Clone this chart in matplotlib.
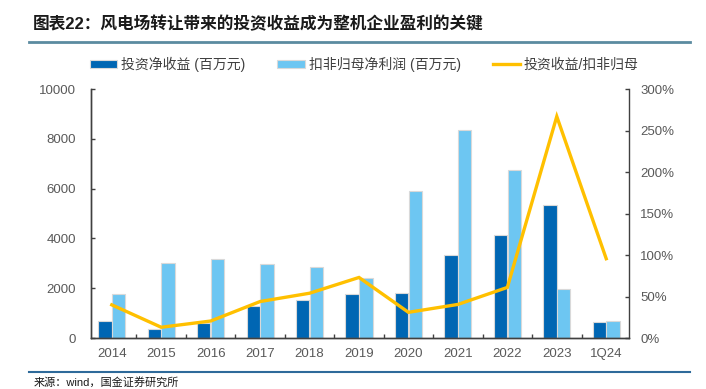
import numpy as np
import matplotlib
matplotlib.use("Agg")
import matplotlib.pyplot as plt
from matplotlib.lines import Line2D
from matplotlib.patches import Patch
from matplotlib.ticker import FuncFormatter

plt.rcParams['font.family'] = ['Liberation Sans', 'Noto Sans CJK SC']

# data
years = ['2014', '2015', '2016', '2017', '2018', '2019', '2020',
         '2021', '2022', '2023', '1Q24']
invest_income = [680, 375, 600, 1285, 1510, 1770, 1795, 3347, 4150, 5330, 630]
net_profit = [1770, 3000, 3160, 2970, 2865, 2410, 5917, 8340, 6733, 1980, 680]
ratio = [0.40, 0.13, 0.205, 0.44, 0.54, 0.73, 0.31, 0.405, 0.61, 2.67, 0.956]

dark_blue = '#0066B3'
light_blue = '#6DC6F2'
gold = '#FFC000'
grey_txt = '#595959'

fig = plt.figure(figsize=(7.06, 3.89), dpi=100)
ax = fig.add_axes([0.1289, 0.131, 0.762, 0.640])
x = np.arange(len(years))
w = 0.27

ax.bar(x - 0.14, invest_income, w, color=dark_blue, edgecolor='#d9d9d9', linewidth=0.8, zorder=2)
ax.bar(x + 0.14, net_profit, w, color=light_blue, edgecolor='#d9d9d9', linewidth=0.8, zorder=2)
ax.set_xlim(-0.42, 10.46)
ax.set_ylim(0, 10000)
ax.set_yticks(np.arange(0, 10001, 2000))
ax.set_xticks(x)
ax.set_xticklabels(years)
ax.set_xticks(x[:-1] + 0.5, minor=True)

ax2 = ax.twinx()
ax2.plot(x, ratio, color=gold, linewidth=2.4, solid_joinstyle='miter', zorder=3)
ax2.set_ylim(0, 3)
ax2.set_yticks(np.arange(0, 3.01, 0.5))
ax2.yaxis.set_major_formatter(FuncFormatter(lambda v, p: f'{v * 100:.0f}%'))

for a in (ax, ax2):
    a.spines['top'].set_visible(False)
    for s in ('left', 'right', 'bottom'):
        a.spines[s].set_color('#404040')
        a.spines[s].set_linewidth(1.0)
ax.spines['right'].set_visible(False)

ax.tick_params(axis='y', direction='in', length=3, width=1, color='#404040',
               labelsize=9.5, labelcolor=grey_txt, pad=11)
ax.tick_params(axis='x', which='major', length=0, labelsize=9.5, labelcolor=grey_txt, pad=7)
ax.tick_params(axis='x', which='minor', direction='in', length=3, width=1, color='#404040')
ax2.tick_params(axis='y', direction='in', length=3, width=1, color='#404040',
                labelsize=9.5, labelcolor=grey_txt, pad=8)

handles = [Patch(facecolor=dark_blue, edgecolor='#d9d9d9', linewidth=0.8),
           Patch(facecolor=light_blue, edgecolor='#d9d9d9', linewidth=0.8),
           Line2D([], [], color=gold, linewidth=2.4)]
labels = ['投资净收益 (百万元)', '扣非归母净利润 (百万元)', '投资收益/扣非归母']
fig.legend(handles, labels, loc='center left', bbox_to_anchor=(0.1275, 0.835),
           ncol=3, frameon=False, fontsize=10, borderpad=0, borderaxespad=0,
           handlelength=1.95, handleheight=0.5, handletextpad=0.3,
           columnspacing=2.3, labelcolor='#404040')

fig.text(0.047, 0.938, '图表22：风电场转让带来的投资收益成为整机企业盈利的关键',
         fontsize=12, fontweight='bold', color='#1a1a1a', va='center', ha='left')
fig.add_artist(Line2D([29 / 706, 690 / 706], [1 - 41.7 / 389] * 2,
                      color='#5B8BA0', linewidth=2))
fig.add_artist(Line2D([29 / 706, 690 / 706], [1 - 372 / 389] * 2,
                      color='#2E6A9A', linewidth=1.5))
fig.text(0.047, 1 - 382 / 389, '来源：wind，国金证券研究所', fontsize=8,
         color='#1a1a1a', va='center', ha='left')

fig.savefig('out.png', dpi=100)
